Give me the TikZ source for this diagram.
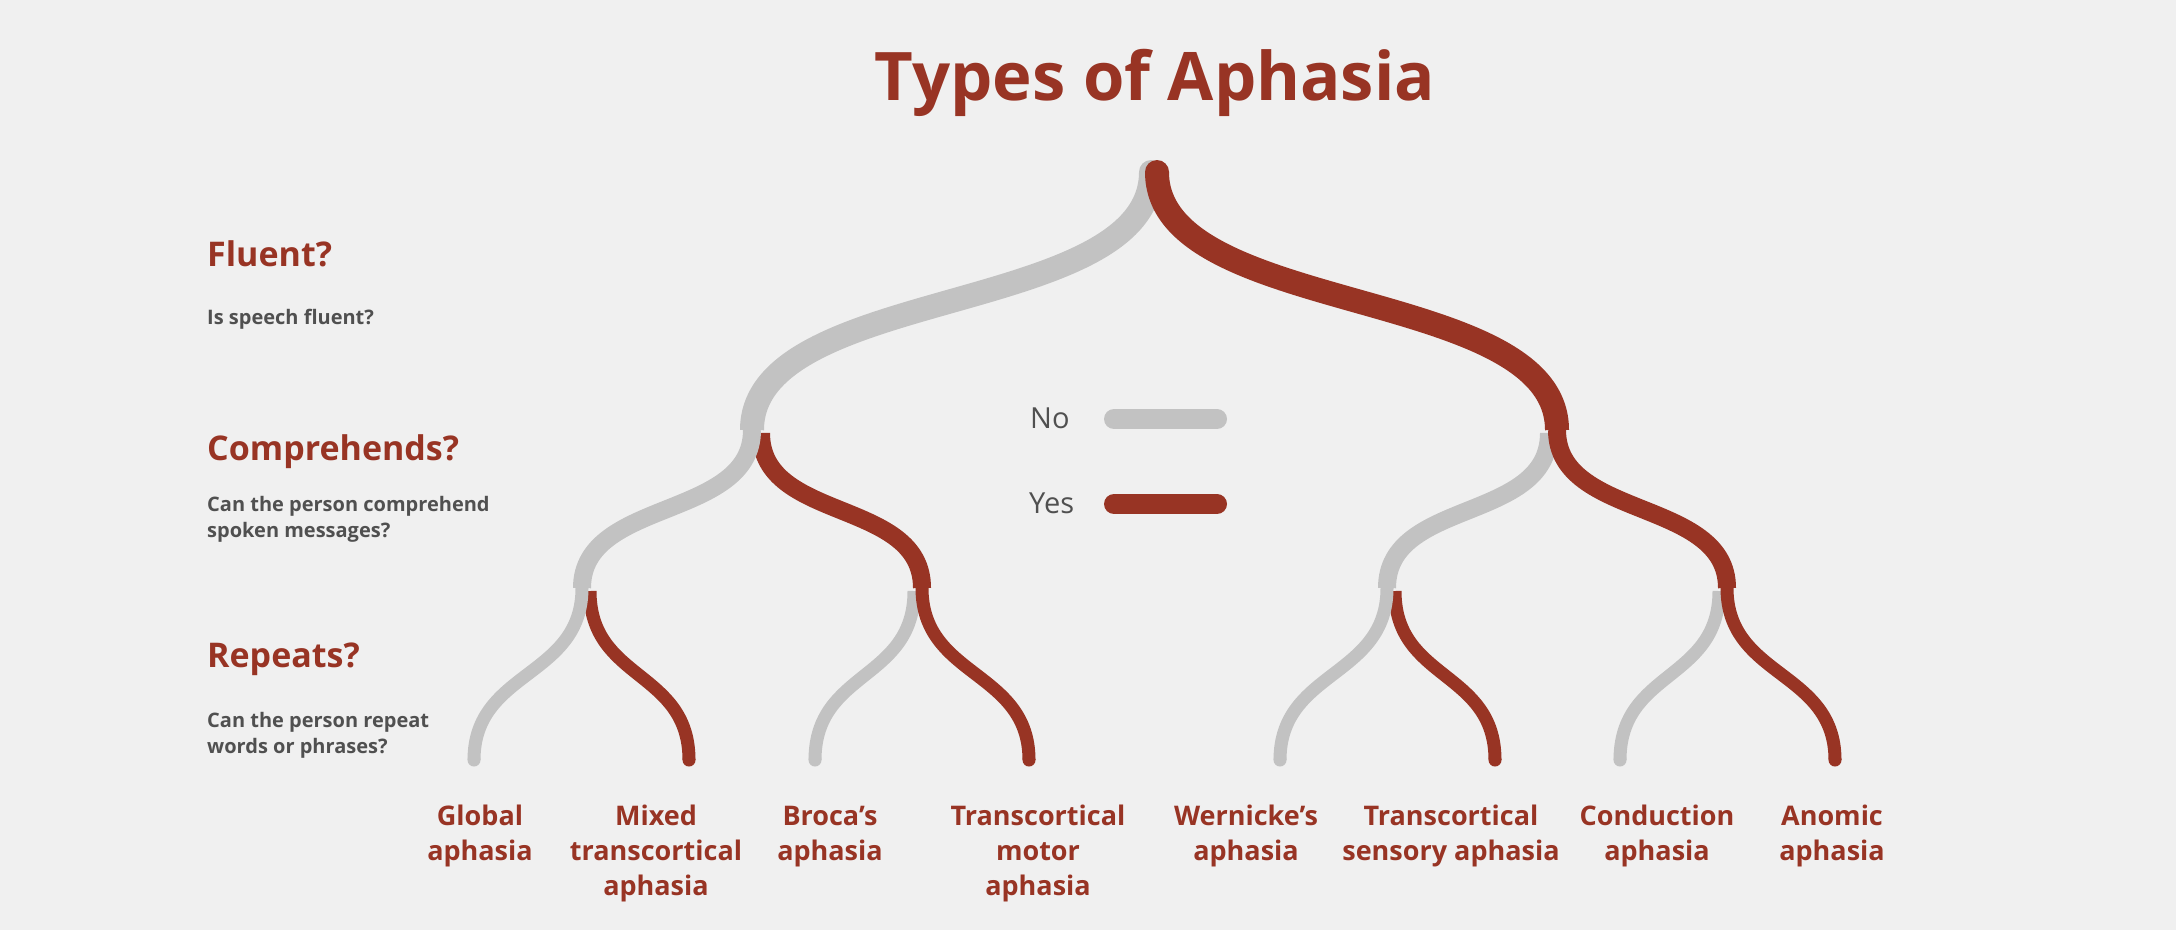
\documentclass[tikz,border=0pt]{standalone}
\usepackage{fontspec}
\setmainfont{Open Sans}
\definecolor{aphred}{RGB}{152,52,36}
\definecolor{aphgray}{RGB}{194,194,194}
\definecolor{bgc}{RGB}{240,240,240}
\definecolor{txtgray}{RGB}{80,80,80}
\begin{document}
\begin{tikzpicture}[x=1pt,y=-1pt,
  titletext/.style={text=aphred, font=\fontsize{67}{80}\selectfont\bfseries, inner sep=0, anchor=base},
  headtext/.style={text=aphred, font=\fontsize{34}{40}\selectfont\bfseries, inner sep=0, anchor=base west},
  desctext/.style={text=txtgray, font=\fontsize{20}{26.5}\selectfont\bfseries, inner sep=0, anchor=base west, align=left},
  leaftext/.style={text=aphred, font=\fontsize{27}{35}\selectfont\bfseries, inner sep=0, anchor=base, align=center},
  legtext/.style={text=txtgray, font=\fontsize{29}{34}\selectfont, inner sep=0, anchor=base west},
  lone/.style={line width=24pt},
  ltwo/.style={line width=18pt},
  lthree/.style={line width=13pt},
  nob/.style={draw=aphgray},
  yesb/.style={draw=aphred}]
\fill[bgc] (0,0) rectangle (2176,930);
\useasboundingbox (0,0) rectangle (2176,930);

% title and question labels (multi-line nodes are anchored at the last baseline)
\node[titletext] (title) at (1155,100) {Types of Aphasia};
\node[headtext] (q1) at (207,266) {Fluent?};
\node[desctext] (d1) at (207,324) {Is speech fluent?};
\node[headtext] (q2) at (207,460) {Comprehends?};
\node[desctext] (d2) at (207,537.5) {Can the person comprehend\\spoken messages?};
\node[headtext] (q3) at (207,667) {Repeats?};
\node[desctext] (d3) at (207,753.5) {Can the person repeat\\words or phrases?};

% legend
\node[legtext] (no) at (1030,428) {No};
\node[legtext] (yes) at (1029,513) {Yes};
\coordinate (noa) at (1114,419); \coordinate (nob) at (1217,419);
\coordinate (yesa) at (1114,504); \coordinate (yesbb) at (1217,504);
\draw[nob, line width=20pt, line cap=round] (noa) -- (nob);
\draw[yesb, line width=20pt, line cap=round] (yesa) -- (yesbb);

% tree points
\coordinate (rootN) at (1151,172);
\coordinate (rootY) at (1157,172);
\coordinate (gA) at (752,430);
\coordinate (rA) at (1557,430);
\coordinate (gAy) at (761,433);
\coordinate (rAn) at (1549,433);
\coordinate (gB1) at (582,588);
\coordinate (rB1) at (922,588);
\coordinate (gB2) at (1387,588);
\coordinate (rB2) at (1727,588);
\coordinate (gB1y) at (590,591);
\coordinate (rB1n) at (914,591);
\coordinate (gB2y) at (1395,591);
\coordinate (rB2n) at (1719,591);
\coordinate (f1) at (474,760);
\coordinate (f2) at (689,760);
\coordinate (f3) at (815,760);
\coordinate (f4) at (1029,760);
\coordinate (f5) at (1280,760);
\coordinate (f6) at (1495,760);
\coordinate (f7) at (1620,760);
\coordinate (f8) at (1835,760);

% level 3 branches that start beside a junction
\draw[yesb,lthree] (gB1y) .. controls +(0,90) and +(0,-90) .. (f2);
\draw[nob,lthree] (rB1n) .. controls +(0,90) and +(0,-90) .. (f3);
\draw[yesb,lthree] (gB2y) .. controls +(0,90) and +(0,-90) .. (f6);
\draw[nob,lthree] (rB2n) .. controls +(0,90) and +(0,-90) .. (f7);
% level 2 branches that start beside a junction
\draw[yesb,ltwo] (gAy) .. controls +(0,90) and +(0,-90) .. (rB1);
\draw[nob,ltwo] (rAn) .. controls +(0,90) and +(0,-90) .. (gB2);
% level 1
\draw[nob,lone] (rootN) .. controls +(0,145) and +(0,-145) .. (gA);
\fill[aphgray] (rootN) circle (12);
\draw[yesb,lone] (rootY) .. controls +(0,145) and +(0,-145) .. (rA);
\fill[aphred] (rootY) circle (12);
% level 2 continuations
\draw[nob,ltwo] (gA) .. controls +(0,90) and +(0,-90) .. (gB1);
\draw[yesb,ltwo] (rA) .. controls +(0,90) and +(0,-90) .. (rB2);
% level 3 continuations
\draw[nob,lthree] (gB1) .. controls +(0,90) and +(0,-90) .. (f1);
\draw[yesb,lthree] (rB1) .. controls +(0,90) and +(0,-90) .. (f4);
\draw[nob,lthree] (gB2) .. controls +(0,90) and +(0,-90) .. (f5);
\draw[yesb,lthree] (rB2) .. controls +(0,90) and +(0,-90) .. (f8);
% round leaf ends
\foreach \p in {f1,f3,f5,f7} \fill[aphgray] (\p) circle (6.5);
\foreach \p in {f2,f4,f6,f8} \fill[aphred] (\p) circle (6.5);

% leaf labels (anchored at the baseline of their last line)
\node[leaftext] (t1) at (480,860) {Global\\aphasia};
\node[leaftext] (t2) at (656,895) {Mixed\\transcortical\\aphasia};
\node[leaftext] (t3) at (830,860) {Broca’s\\aphasia};
\node[leaftext] (t4) at (1038,895) {Transcortical\\motor\\aphasia};
\node[leaftext] (t5) at (1246,860) {Wernicke’s\\aphasia};
\node[leaftext] (t6) at (1451,860) {Transcortical\\sensory aphasia};
\node[leaftext] (t7) at (1657,860) {Conduction\\aphasia};
\node[leaftext] (t8) at (1832,860) {Anomic\\aphasia};
\end{tikzpicture}
\end{document}
